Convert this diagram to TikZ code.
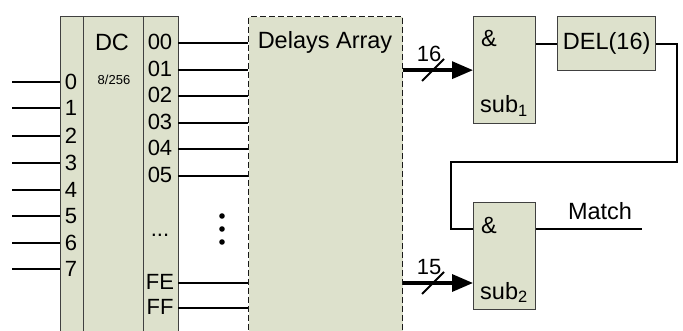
\documentclass[tikz,border=0pt]{standalone}
\usepackage{fontspec}
\setmainfont{Liberation Sans}
\usetikzlibrary{arrows.meta}
\definecolor{blockfill}{RGB}{221,225,204}
\tikzset{
  block/.style={draw=black!75, line width=1.3pt, fill=blockfill, inner sep=0pt, anchor=north west},
  wire/.style={line width=1.8pt},
  bus/.style={line width=3.4pt, -{Triangle[length=21pt,width=17pt]}},
  txtbig/.style={font=\fontsize{23.5}{27}\selectfont, inner sep=0pt},
  txtport/.style={font=\fontsize{22}{25}\selectfont, inner sep=0pt},
  txtsmall/.style={font=\fontsize{13}{15}\selectfont, inner sep=0pt},
}
\begin{document}
\begin{tikzpicture}[x=1pt, y=-1pt]
    \clip (0,0) rectangle (683,331);

    % Decoder columns (left)
    \node[block, minimum width=23, minimum height=330] (incol) at (60,16) {};
    \node[block, minimum width=60, minimum height=330] (dccol) at (83,16) {};
    \node[block, minimum width=35, minimum height=330] (outcol) at (143,16) {};
    \node[txtbig] (dc) at (112,42) {DC};
    \node[txtsmall] (ratio) at (114,80) {8/256};

    % Decoder inputs
    \foreach \lab/\y in {0/82,1/108,2/136,3/163,4/190,5/216,6/243,7/269} {
        \node[txtport] (in\lab) at (71,\y) {\lab};
        \coordinate (src\lab) at (12,\y);
        \draw[wire] (src\lab) -- (src\lab -| incol.west);
    }

    % Delays array
    \node[block, draw=black!90, dash pattern=on 6pt off 3pt, minimum width=154, minimum height=330] (delays) at (248,16) {};
    \node[txtbig, anchor=base] (delaystxt) at (325,49) {Delays Array};

    % Decoder outputs
    \foreach \lab/\y in {00/43,01/70,02/96,03/123,04/149,05/176,FE/283,FF/308} {
        \node[txtport] (o\lab) at (160,\y-1) {\lab};
        \coordinate (p\lab) at (178,\y);
        \draw[wire] (p\lab) -- (p\lab -| delays.west);
    }
    \node[txtport, anchor=base] (odots) at (160,237) {...};
    \foreach \y in {216,229,242}
        \fill (222,\y) circle (2.8);

    % AND gates and delay
    \node[block, minimum width=62, minimum height=107] (gate1) at (473,16) {};
    \node[txtbig, anchor=base west] (amp1) at (481,47) {\&};
    \node[txtbig, anchor=base west] (sub1) at (480,113) {sub\textsubscript{1}};
    \node[block, minimum width=98, minimum height=54, font=\fontsize{23.5}{27}\selectfont] (del) at (557,16) {DEL(16)};
    \node[block, minimum width=62, minimum height=107] (gate2) at (473,202) {};
    \node[txtbig, anchor=base west] (amp2) at (481,234) {\&};
    \node[txtbig, anchor=base west] (sub2) at (480,299) {sub\textsubscript{2}};

    % Buses
    \coordinate (bus2in) at (473,283);
    \draw[bus] (delays.east |- gate1.west) -- (gate1.west);
    \draw[bus] (delays.east |- bus2in) -- (bus2in);
    \draw[wire] (433,70) ++(-11,11) -- ++(22,-22);
    \draw[wire] (433,283) ++(-11,11) -- ++(22,-22);
    \node[txtport, anchor=base] (w16) at (429,62) {16};
    \node[txtport, anchor=base] (w15) at (429,275) {15};

    % Feedback and output
    \coordinate (fbr) at (677,162);
    \coordinate (fbl) at (451,162);
    \coordinate (and2in) at (473,229);
    \coordinate (matchend) at (642,229);
    \draw[wire] (gate1.east |- del.west) -- (del.west);
    \draw[wire] (del.east) -| (fbr) -- (fbl) |- (and2in);
    \draw[wire] (and2in -| gate2.east) -- (matchend);
    \node[txtbig, anchor=base] (matchlbl) at (600,220) {Match};
\end{tikzpicture}
\end{document}
